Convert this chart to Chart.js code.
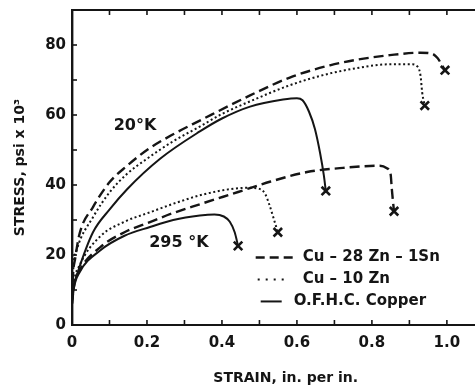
<!DOCTYPE html>
<html>
<head>
<meta charset="utf-8">
<script src="https://cdn.jsdelivr.net/npm/chart.js@4.4.1/dist/chart.umd.min.js"></script>
<style>
  html, body { margin: 0; padding: 0; background: #fff; }
  #wrap { width: 475px; height: 385px; }
</style>
</head>
<body>
<div id="wrap"><canvas id="chart" width="475" height="385"></canvas></div>
<script>
// ---- data (strain in in./in., stress in psi x 10^3) ----
const seriesNames = ['Cu – 28 Zn – 1Sn', 'Cu – 10 Zn', 'O.F.H.C. Copper'];
const tempLabels = ['20°K', '295 °K'];
const strainTicks = [0, 0.2, 0.4, 0.6, 0.8, 1.0];
const stressTicks = [0, 20, 40, 60, 80];

// 20 K
const sn20Strain = [0, 0.003, 0.008, 0.02, 0.056, 0.101, 0.147, 0.2, 0.27, 0.341, 0.475, 0.581, 0.688, 0.76, 0.848, 0.93, 0.958, 0.975, 0.985, 0.995];
const sn20Stress = [8, 15, 18.7, 26, 33.7, 40.9, 45.5, 50, 54.5, 58.4, 65.6, 70.7, 74.2, 75.8, 77.1, 77.8, 77.6, 76.3, 74.6, 72.8];
const zn20Strain = [0, 0.004, 0.013, 0.056, 0.101, 0.147, 0.2, 0.27, 0.341, 0.4, 0.475, 0.581, 0.67, 0.76, 0.848, 0.905, 0.922, 0.93, 0.934, 0.941];
const zn20Stress = [8, 17, 21.6, 30.8, 38, 43.2, 47.5, 52.5, 56.7, 60.3, 63.9, 68.5, 71.4, 73.4, 74.5, 74.5, 73.8, 71, 66.5, 62.7];
const cu20Strain = [0, 0.004, 0.015, 0.056, 0.101, 0.147, 0.235, 0.341, 0.4, 0.475, 0.563, 0.6, 0.615, 0.632, 0.648, 0.662, 0.672, 0.677];
const cu20Stress = [8, 11, 15, 26.5, 33.1, 38.8, 47.5, 55.3, 59, 62.4, 64.4, 64.8, 64.2, 61, 56, 49, 42.6, 38.3];

// 295 K
const sn295Strain = [0, 0.005, 0.02, 0.075, 0.14, 0.208, 0.27, 0.341, 0.443, 0.53, 0.627, 0.723, 0.821, 0.84, 0.85, 0.853, 0.856, 0.859];
const sn295Stress = [6, 11, 15.5, 22.2, 26.5, 29.4, 32, 34.5, 38, 41, 43.7, 44.9, 45.5, 44.8, 43, 39, 35.5, 32.5];
const zn295Strain = [0, 0.005, 0.02, 0.075, 0.14, 0.208, 0.28, 0.35, 0.421, 0.47, 0.5, 0.515, 0.526, 0.536, 0.549];
const zn295Stress = [6, 12, 17, 25.3, 29.5, 32.2, 35, 37.3, 38.8, 39.2, 38.9, 37.5, 34.5, 31.1, 26.5];
const cu295Strain = [0, 0.005, 0.02, 0.075, 0.14, 0.208, 0.27, 0.341, 0.38, 0.405, 0.421, 0.434, 0.443];
const cu295Stress = [6, 10.5, 15, 21.3, 25.5, 28, 30, 31.3, 31.6, 31, 29.5, 26.5, 22.6];

const ink = '#151515';
const font = '"DejaVu Sans", sans-serif';

const toPoints = (xs, ys) => xs.map((v, i) => ({ x: v, y: ys[i] }));

// line style per material: dashed, dotted, solid
const styles = [
  { borderDash: [10, 5], borderWidth: 2.4 },
  { borderDash: [2, 2.6], borderWidth: 2 },
  { borderDash: [], borderWidth: 2 },
];

const curves = [
  { s: 0, pts: toPoints(sn20Strain, sn20Stress) },
  { s: 1, pts: toPoints(zn20Strain, zn20Stress) },
  { s: 2, pts: toPoints(cu20Strain, cu20Stress) },
  { s: 0, pts: toPoints(sn295Strain, sn295Stress) },
  { s: 1, pts: toPoints(zn295Strain, zn295Stress) },
  { s: 2, pts: toPoints(cu295Strain, cu295Stress) },
];

const datasets = curves.map(c => ({
  label: seriesNames[c.s],
  data: c.pts,
  showLine: true,
  borderColor: ink,
  borderWidth: styles[c.s].borderWidth,
  borderDash: styles[c.s].borderDash,
  pointRadius: 0,
  cubicInterpolationMode: 'monotone',
  fill: false,
}));

// fracture marks at the end of each curve
datasets.push({
  label: 'fracture',
  data: curves.map(c => c.pts[c.pts.length - 1]),
  showLine: false,
  pointStyle: 'crossRot',
  pointRadius: 6,
  pointBorderWidth: 2.6,
  borderColor: ink,
});

const overlay = {
  id: 'overlay',
  afterDraw(chart) {
    const { ctx, chartArea: a, scales: { x, y } } = chart;
    ctx.save();
    ctx.strokeStyle = ink;
    ctx.fillStyle = ink;
    ctx.lineWidth = 2;

    const seg = (x1, y1, x2, y2) => {
      ctx.beginPath(); ctx.moveTo(x1, y1); ctx.lineTo(x2, y2); ctx.stroke();
    };

    // top frame line
    seg(a.left - 1, a.top, a.right, a.top);

    // inward ticks
    ctx.lineWidth = 1.6;
    for (let i = 1; i <= 10; i++) {
      const px = x.getPixelForValue(i / 10);
      seg(px, a.bottom, px, a.bottom - 5);
      seg(px, a.top, px, a.top + 5);
    }
    for (let v = 10; v <= 80; v += 10) {
      const py = y.getPixelForValue(v);
      seg(a.left, py, a.left + 5, py);
    }

    // strain tick labels
    ctx.font = 'bold 15px ' + font;
    ctx.textBaseline = 'middle';
    ctx.textAlign = 'center';
    strainTicks.forEach(v => {
      ctx.fillText(v === 0 ? '0' : v.toFixed(1), x.getPixelForValue(v), a.bottom + 18);
    });

    // temperature labels
    ctx.font = 'bold 16px ' + font;
    ctx.fillText(tempLabels[0], x.getPixelForValue(0.168), y.getPixelForValue(57));
    ctx.fillText(tempLabels[1], x.getPixelForValue(0.285), y.getPixelForValue(23.6));

    // legend
    const lx = x.getPixelForValue(0.49);
    const ly = y.getPixelForValue(19.3);
    const rows = [
      { x1: lx, x2: lx + 37, tx: lx + 47, dash: [9, 5] },
      { x1: lx + 2, x2: lx + 28, tx: lx + 47, dash: [2, 6] },
      { x1: lx + 5, x2: lx + 26, tx: lx + 38, dash: [] },
    ];
    ctx.textAlign = 'left';
    ctx.font = 'bold 15px ' + font;
    rows.forEach((r, i) => {
      const ry = ly + i * 22;
      ctx.lineWidth = styles[i].borderWidth;
      ctx.setLineDash(r.dash);
      seg(r.x1, ry, r.x2, ry);
      ctx.setLineDash([]);
      ctx.fillText(seriesNames[i], r.tx, ry);
    });

    // x axis title
    ctx.font = 'bold 14px ' + font;
    ctx.textAlign = 'center';
    ctx.fillText('STRAIN, in. per in.', x.getPixelForValue(0.57), 378);
    ctx.restore();
  }
};

new Chart(document.getElementById('chart'), {
  type: 'scatter',
  data: { datasets },
  options: {
    responsive: false,
    animation: false,
    layout: { autoPadding: false, padding: { top: 10, right: 0, left: 0, bottom: 0 } },
    plugins: {
      legend: { display: false },
      tooltip: { enabled: false },
    },
    scales: {
      x: {
        type: 'linear',
        min: 0,
        max: 1.075,
        afterFit: s => { s.height = 60; s.paddingLeft = 0; s.paddingRight = 0; },
        grid: { display: false, drawTicks: false },
        border: { display: true, color: ink, width: 2 },
        ticks: { display: false },
      },
      y: {
        min: 0,
        max: 90,
        afterBuildTicks: s => { s.ticks = stressTicks.map(v => ({ value: v })); },
        afterFit: s => { s.width = 72; s.paddingTop = 0; s.paddingBottom = 0; },
        grid: { display: false, drawTicks: false },
        border: { display: true, color: ink, width: 2.4 },
        title: {
          display: true,
          text: 'STRESS, psi x 10³',
          color: ink,
          font: { family: font, size: 14, weight: 'bold' },
          padding: { top: 12, bottom: 0 },
        },
        ticks: {
          padding: 6,
          color: ink,
          autoSkip: false,
          font: { family: font, size: 15, weight: 'bold' },
          callback: v => String(v),
        },
      },
    },
  },
  plugins: [overlay],
});
</script>
</body>
</html>
